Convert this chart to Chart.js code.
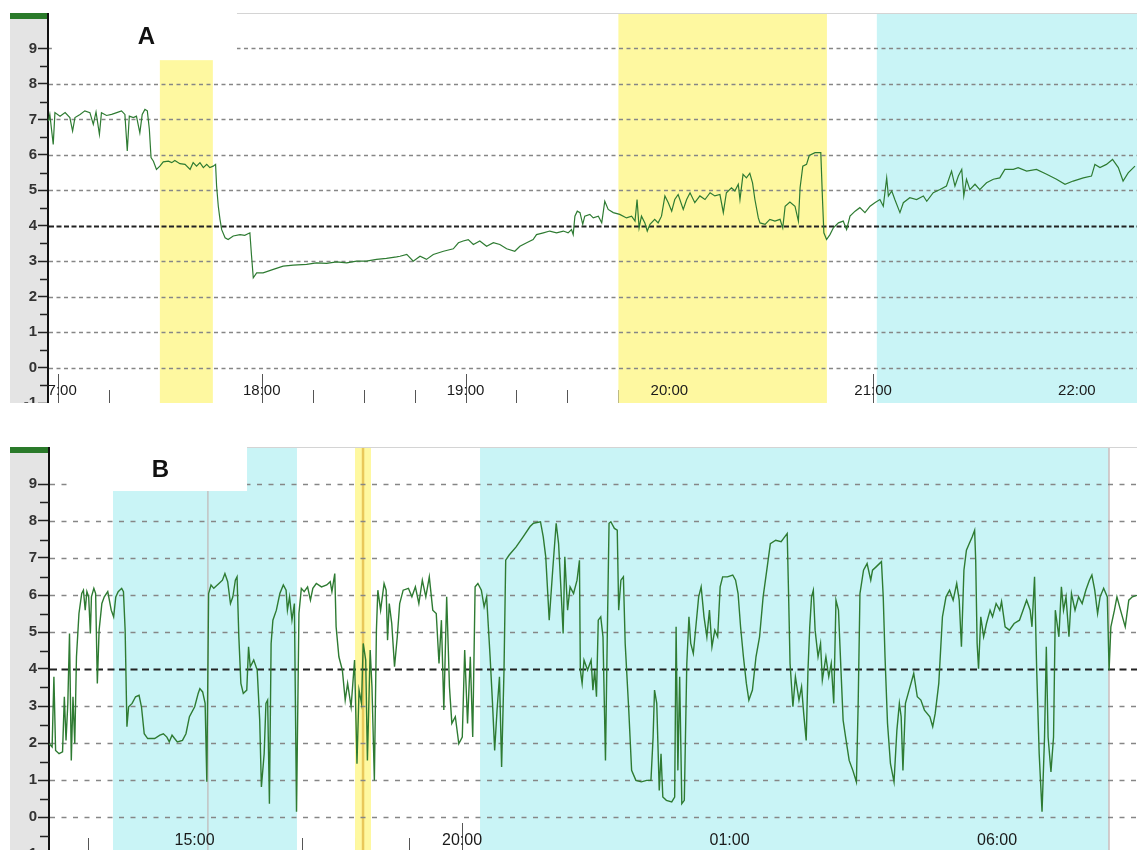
<!DOCTYPE html>
<html>
<head>
<meta charset="utf-8">
<script src="https://cdn.jsdelivr.net/npm/chart.js@4.4.0/dist/chart.umd.min.js"></script>
<style>
  html, body { margin: 0; padding: 0; background: #fff; overflow: hidden; width: 1137px; height: 850px; }
  canvas { position: absolute; left: 10px; }
  #chartA { top: 13px; }
  #chartB { top: 447px; }
</style>
</head>
<body>
<canvas id="chartA" width="1127" height="390"></canvas>
<canvas id="chartB" width="1127" height="407"></canvas>
<script>
// times are minutes after midnight of the first day (values past 1440 = next day)

// --- panel A ---
const timesA = [
  1017.2, 1017.6, 1018.6, 1019.1, 1020.6, 1022.1, 1023.5, 1024.3, 1025.0, 1026.5,
  1027.9, 1029.4, 1030.4, 1031.2, 1032.2, 1032.8, 1034.3, 1035.8, 1037.3, 1038.7,
  1039.7, 1040.4, 1041.0, 1042.2, 1043.1, 1044.1, 1044.8, 1045.6, 1046.3, 1046.9,
  1047.4, 1048.1, 1049.0, 1050.0, 1051.0, 1052.5, 1053.5, 1054.4, 1055.9, 1057.4,
  1058.9, 1059.8, 1060.8, 1061.8, 1062.8, 1063.8, 1064.7, 1065.7, 1066.4, 1066.7,
  1067.2, 1067.7, 1068.2, 1069.2, 1070.1, 1071.6, 1073.6, 1075.0, 1076.5, 1077.0,
  1077.5, 1078.5, 1080.4, 1083.4, 1086.3, 1089.3, 1093.2, 1096.1, 1099.1, 1102.0,
  1105.0, 1107.9, 1110.8, 1113.8, 1116.7, 1119.7,
  1120.7, 1122.7, 1124.6, 1126.6, 1128.5, 1130.5, 1133.5, 1136.4, 1137.9, 1139.3,
  1140.8, 1142.3, 1144.2, 1146.2, 1148.2, 1150.1, 1152.1, 1154.5, 1156.0, 1158.0,
  1159.9, 1160.9, 1162.9, 1164.8, 1166.8, 1168.8, 1170.2, 1171.2, 1171.7, 1172.2,
  1172.9, 1173.7, 1174.5, 1175.1, 1176.6, 1177.6, 1179.1, 1180.1, 1181.0, 1182.0,
  1183.5, 1185.4, 1187.4, 1188.9, 1189.9, 1190.5, 1191.1, 1191.8, 1192.8, 1193.5,
  1194.3, 1195.7, 1196.7, 1197.7, 1198.7, 1199.7, 1200.7, 1201.6, 1202.6, 1204.1,
  1205.1, 1206.1, 1207.5, 1209.0, 1210.5, 1212.0, 1213.4, 1214.9, 1215.9, 1216.8,
  1218.3, 1219.3, 1220.3, 1220.8, 1221.7, 1222.7, 1223.7, 1224.5, 1225.2, 1226.2,
  1226.7, 1228.2, 1229.6, 1231.1, 1232.6, 1233.4, 1234.1, 1235.5, 1237.0, 1238.0,
  1238.5, 1239.3, 1240.4, 1241.2, 1242.9, 1244.6, 1245.1, 1245.5, 1246.3, 1247.3,
  1248.3, 1249.8, 1251.2, 1252.2, 1253.2, 1254.7, 1256.1, 1257.6, 1259.1, 1260.5,
  1262.0, 1263.0, 1264.0, 1264.5, 1265.5, 1266.4, 1267.9, 1268.9, 1270.8, 1272.8,
  1274.8, 1275.8, 1277.7, 1279.7, 1281.6, 1283.1, 1284.1, 1285.1, 1286.1, 1286.7,
  1287.5, 1288.5, 1290.0, 1291.4, 1293.4, 1295.4, 1297.3, 1298.8, 1301.3, 1302.7,
  1305.2, 1308.1, 1311.1, 1314.0, 1316.5, 1318.9, 1321.9, 1324.3, 1325.3, 1326.8,
  1328.7, 1330.5, 1332.2, 1333.6, 1335.1, 1337.1
];
const valuesA = [
  6.95, 7.14, 6.29, 7.19, 7.09, 7.19, 7.05, 6.67, 7.05, 7.14,
  7.24, 7.19, 6.86, 7.21, 6.58, 7.19, 7.11, 7.14, 7.19, 7.24,
  7.14, 6.11, 7.09, 7.05, 7.09, 6.62, 7.14, 7.28, 7.24, 6.72,
  5.92, 5.82, 5.59, 5.68, 5.80, 5.82, 5.78, 5.84, 5.75, 5.73,
  5.59, 5.78, 5.68, 5.78, 5.64, 5.73, 5.64, 5.68, 5.73, 5.12,
  4.55, 4.18, 3.89, 3.66, 3.61, 3.71, 3.75, 3.73, 3.80, 3.14,
  2.53, 2.67, 2.67, 2.77, 2.86, 2.89, 2.91, 2.95, 2.94, 2.98,
  2.95, 3.00, 3.00, 3.05, 3.08, 3.12,
  3.14, 3.19, 3.00, 3.14, 3.05, 3.19, 3.28, 3.35, 3.52, 3.57,
  3.61, 3.47, 3.57, 3.42, 3.52, 3.47, 3.35, 3.28, 3.42, 3.52,
  3.61, 3.75, 3.80, 3.85, 3.80, 3.85, 3.80, 3.89, 3.75, 4.27,
  4.41, 4.37, 4.04, 4.27, 4.32, 4.22, 4.27, 4.08, 4.69, 4.46,
  4.37, 4.32, 4.22, 4.27, 4.13, 4.74, 3.94, 4.27, 4.08, 3.85,
  4.04, 4.18, 4.08, 4.27, 4.84, 4.65, 4.41, 4.74, 4.88, 4.46,
  4.74, 4.93, 4.65, 4.84, 4.74, 4.93, 4.84, 4.88, 4.37, 4.93,
  5.07, 4.98, 5.17, 4.74, 5.45, 5.35, 5.48, 5.21, 4.74, 4.22,
  4.08, 4.04, 4.18, 4.13, 4.18, 3.94, 4.55, 4.67, 4.55, 4.13,
  5.07, 5.68, 5.73, 5.98, 6.06, 6.06, 4.74, 3.80, 3.61, 3.75,
  3.94, 4.08, 4.13, 3.89, 4.27, 4.41, 4.51, 4.37, 4.55, 4.65,
  4.74, 4.55, 5.35, 4.84, 4.98, 4.74, 4.37, 4.65, 4.79, 4.74,
  4.84, 4.69, 4.93, 5.02, 5.12, 5.54, 5.12, 5.40, 5.59, 4.84,
  5.31, 5.02, 5.17, 5.02, 5.21, 5.31, 5.35, 5.59, 5.59, 5.64,
  5.54, 5.59, 5.45, 5.31, 5.17, 5.26, 5.35, 5.40, 5.73, 5.64,
  5.73, 5.87, 5.64, 5.26, 5.49, 5.68
];
const labelTimesA = [1020, 1080, 1140, 1200, 1260, 1320];
const labelsA = ['17:00', '18:00', '19:00', '20:00', '21:00', '22:00'];
const periodStartA = [1050, 1185, 1261.1];
const periodEndA = [1065.6, 1246.4, 1337.7];
const periodKindA = ['yellow', 'yellow', 'cyan'];
const markerTimesA = [];
const markerKindA = [];

// --- panel B ---
const timesB = [
  737, 740.3, 742.3, 744.2, 748.1, 752.0, 754.0, 755.9, 757.9, 759.8,
  761.8, 763.7, 765.7, 767.6, 770.4, 773.5, 775.4, 777.4, 779.3, 781.3,
  783.2, 784.4, 787.1, 789.1, 791.0, 793.0, 796.1, 798.8, 802.7, 806.6,
  809.3, 811.7, 814.4, 818.3, 820.3, 822.2, 824.2, 826.1, 830.0, 833.9,
  837.8, 840.5, 843.6, 847.5, 855.3, 861.2, 865.1, 869.0, 871.7, 874.8,
  880.7, 886.5, 890.4, 894.3, 900.2, 904.1, 906.0, 909.1, 911.9, 913.8,
  915.8, 918.5, 921.6, 927.4, 931.3, 934.1, 937.2, 940.3, 943.0, 945.8,
  947.7, 949.7, 952.0, 954.7, 958.6, 960.6, 962.5, 966.4, 970.3, 973.1,
  975.0, 978.1, 980.1, 982.0, 984.0, 985.9, 987.9, 991.8, 995.7, 999.6,
  1002.7, 1004.2, 1006.6, 1009.3, 1012.0, 1014.4, 1017.1, 1019.8, 1023.0, 1026.8,
  1030.0, 1032.7, 1036.6, 1042.4, 1048.3, 1052.2, 1054.1, 1057.3, 1058.8, 1061.9,
  1065.8, 1069.0, 1071.7, 1075.6, 1079.5, 1082.2, 1084.5, 1087.3, 1089.2, 1092.0,
  1093.9, 1097.0, 1099.0, 1101.7, 1104.0, 1105.6, 1108.7, 1112.6, 1114.9, 1116.5,
  1118.4, 1121.2, 1124.3, 1127.4, 1130.1, 1134.0, 1139.9, 1143.8, 1147.7, 1151.6,
  1155.5, 1159.4, 1163.3, 1167.2, 1171.1, 1174.2, 1176.9, 1179.6, 1182.8, 1185.9,
  1188.6, 1192.5, 1196.4, 1200.3, 1203.0, 1206.2, 1209.3, 1212.0, 1214.7, 1217.8,
  1221.7, 1224.8, 1227.6, 1231.5, 1234.2, 1236.6, 1239.3, 1242.0, 1244.4, 1247.1,
  1249.0, 1252.9, 1260.7, 1268.5, 1276.3, 1280.2, 1288.0, 1291.1, 1293.9, 1297.8,
  1301.7, 1305.6, 1308.3, 1311.4, 1313.4, 1315.3, 1318.4, 1321.2, 1325.1, 1329.0, 1331.7,
  1332.7, 1334.7, 1336.8, 1340.8, 1344.8, 1346.8, 1348.8, 1350.8, 1352.8, 1355.6,
  1358.1, 1360.9, 1362.9, 1364.9, 1366.9, 1370.9, 1374.1, 1375.7, 1378.2, 1381.0,
  1383.0, 1387.0, 1390.2, 1395.0, 1401.1, 1407.1, 1411.9, 1414.3, 1415.9, 1418.4,
  1421.2, 1423.2, 1425.2, 1429.2, 1435.2, 1438.5, 1440.1, 1442.1, 1444.1, 1446.5,
  1449.3, 1452.1, 1454.5, 1456.5, 1459.4, 1462.6, 1465.4, 1468.2, 1471.4, 1474.6,
  1477.5, 1480.3, 1483.5, 1486.7, 1489.5, 1492.3, 1497.6, 1503.6, 1506.8, 1509.6,
  1512.4, 1515.6, 1518.9, 1521.7, 1525.7, 1529.7, 1533.7, 1537.7, 1541.8, 1545.8,
  1551.8, 1557.9, 1561.9, 1564.7, 1566.3, 1567.9, 1571.1, 1573.9, 1577.9, 1580.8,
  1583.2, 1586.0, 1588.0, 1590.0, 1592.0, 1594.0, 1596.0, 1599.3, 1602.1, 1604.1,
  1608.1, 1611.3, 1614.1, 1616.9, 1619.4, 1622.2, 1625.0, 1627.4, 1630.2, 1634.2,
  1638.3, 1642.3, 1644.3, 1646.3, 1650.3, 1654.3, 1658.4, 1660.4, 1664.4, 1670.4,
  1672.4, 1674.4, 1677.2, 1680.5, 1684.5, 1687.7, 1690.5, 1692.5, 1694.5, 1697.3,
  1701.4, 1706.6, 1710.6, 1714.6, 1718.6, 1724.7, 1727.9, 1730.7, 1734.7, 1738.8,
  1742.8, 1746.8, 1750.8, 1754.8, 1757.6, 1760.1, 1762.9, 1765.7, 1768.9, 1772.1,
  1774.9, 1776.1, 1777.7, 1779.3, 1781.8, 1785.0, 1788.2, 1792.2, 1795.0, 1799.0,
  1803.1, 1805.1, 1809.1, 1813.9, 1819.2, 1825.2, 1829.2, 1833.2, 1837.2, 1839.2,
  1842.1, 1844.5, 1847.3, 1850.5, 1853.3, 1855.3, 1857.3, 1860.5, 1863.4, 1865.4,
  1869.4, 1872.2, 1874.6, 1877.4, 1880.7, 1883.5, 1887.5, 1891.5, 1895.5, 1899.6,
  1903.6, 1906.4, 1909.6, 1912.8, 1915.6, 1919.6, 1923.7, 1925.7, 1927.7, 1931.7,
  1934.5, 1938.5, 1943.8, 1947.8, 1951.8, 1957.0
];
const valuesB = [
  1.98, 1.89, 3.79, 1.80, 1.71, 1.76, 3.25, 2.07, 3.07, 4.96,
  1.53, 3.25, 1.98, 4.33, 5.50, 6.04, 6.13, 5.59, 6.09, 5.95,
  4.96, 5.95, 6.18, 6.04, 3.61, 5.05, 5.77, 5.95, 6.09, 5.59,
  5.41, 5.95, 6.09, 6.18, 6.09, 5.05, 2.44, 2.98, 3.07, 3.25,
  3.29, 2.98, 2.25, 2.12, 2.12, 2.21, 2.25, 2.16, 2.03, 2.21,
  2.03, 2.07, 2.25, 2.71, 2.98, 3.34, 3.47, 3.38, 3.07, 0.95,
  6.04, 6.27, 6.18, 6.31, 6.40, 6.58, 6.36, 5.77, 5.95, 6.40,
  6.49, 4.87, 3.61, 3.34, 3.43, 4.60, 4.06, 4.24, 3.97, 2.62,
  0.81, 1.71, 3.07, 3.16, 0.36, 4.69, 5.32, 5.59, 6.04, 6.27,
  6.13, 5.59, 5.95, 5.32, 5.77, 0.14, 5.50, 6.18, 6.09, 6.22,
  5.86, 6.18, 6.31, 6.22, 6.27, 6.36, 6.09, 6.58, 5.14, 4.33,
  3.97, 3.16, 3.61, 2.98, 4.24, 1.44, 3.43, 3.07, 4.69, 4.24,
  1.53, 4.51, 3.52, 0.99, 5.05, 6.13, 5.59, 6.31, 6.13, 4.78,
  5.77, 5.23, 4.06, 4.87, 5.77, 6.13, 6.18, 5.95, 6.22, 5.77,
  6.40, 5.95, 6.49, 5.59, 5.50, 4.15, 5.32, 2.89, 5.95, 3.52,
  2.53, 2.71, 1.98, 2.16, 4.51, 2.53, 4.33, 2.16, 6.22, 6.31,
  6.13, 5.68, 5.95, 4.33, 3.07, 1.80, 2.89, 3.79, 1.35, 3.97,
  6.94, 7.08, 7.30, 7.57, 7.85, 7.94, 7.98, 7.57, 7.03, 5.32,
  6.67, 7.94, 7.39, 5.95, 4.96, 7.03, 5.59, 6.22, 6.04, 6.40, 6.94,
  3.97, 3.61, 4.24, 3.97, 4.24, 3.43, 3.97, 3.25, 5.32, 5.41,
  4.87, 1.53, 4.87, 7.94, 7.98, 7.80, 7.75, 5.59, 6.40, 6.49,
  4.69, 2.89, 1.26, 0.99, 0.95, 0.99, 0.99, 2.16, 3.43, 3.07,
  0.72, 1.71, 0.54, 0.45, 0.41, 0.54, 5.14, 1.26, 3.79, 0.36,
  0.45, 4.15, 5.41, 4.69, 4.42, 5.23, 5.95, 6.22, 5.41, 4.87,
  5.59, 4.60, 5.05, 4.87, 6.22, 6.49, 6.49, 6.54, 6.40, 6.04,
  5.14, 4.33, 3.61, 3.16, 3.43, 4.33, 4.87, 5.95, 6.67, 7.39,
  7.48, 7.44, 7.57, 7.66, 5.95, 4.15, 2.98, 3.79, 3.16, 3.52,
  2.80, 2.07, 3.97, 5.14, 5.95, 6.13, 5.05, 4.33, 4.69, 3.70,
  4.33, 3.79, 4.15, 3.07, 5.86, 5.59, 3.97, 2.62, 2.16, 1.53,
  1.26, 0.95, 3.07, 6.04, 6.67, 6.85, 6.40, 6.67, 6.76, 6.90,
  5.95, 4.33, 2.53, 1.44, 0.95, 2.34, 3.07, 2.71, 1.26, 3.07,
  3.43, 3.88, 3.25, 3.16, 2.89, 2.71, 2.44, 2.80, 3.61, 5.41,
  5.95, 6.13, 5.86, 6.31, 5.86, 4.60, 6.67, 7.21, 7.39, 7.57,
  7.75, 6.94, 4.69, 4.01, 5.41, 4.87, 5.23, 5.59, 5.41, 5.77,
  5.59, 5.82, 5.14, 5.05, 5.23, 5.32, 5.59, 5.86, 5.59, 5.14,
  6.49, 3.97, 1.71, 0.14, 2.16, 4.60, 2.16, 1.22, 2.16, 5.59,
  4.87, 6.22, 5.59, 5.95, 4.87, 6.04, 5.59, 5.95, 5.77, 6.13,
  6.40, 6.54, 6.13, 5.50, 5.95, 6.18, 5.95, 3.97, 5.14, 5.59,
  5.95, 5.59, 5.14, 5.86, 5.95, 5.99
];
const labelTimesB = [900, 1200, 1500, 1800];
const labelsB = ['15:00', '20:00', '01:00', '06:00'];
const periodStartB = [808.6, 1080, 1220.2];
const periodEndB = [1014.9, 1097.9, 1925.6];
const periodKindB = ['cyan', 'yellow', 'cyan'];
const markerTimesB = [915, 1089, 1925.6];
const markerKindB = ['gray', 'gold', 'rose'];

const refLevel = 4;

if (timesA.length !== valuesA.length || timesB.length !== valuesB.length) {
  console.error('length mismatch', timesA.length, valuesA.length, timesB.length, valuesB.length);
}

const COLORS = {
  yellow: '#fef8a0', cyan: '#c9f4f6',
  gray: '#c2c2c2', gold: '#e9c85a', rose: '#cbbcbc',
  line: '#2e7b32', grid: '#868686', ref: '#222',
  strip: '#e4e4e4', bar: '#2a7a2a'
};
const FONT = "'Liberation Sans', Arial, sans-serif";

function makePanel(canvasId, p) {
  const decor = {
    id: 'decor',
    beforeDraw(chart) {
      const { ctx, chartArea: a } = chart;
      ctx.save();
      ctx.fillStyle = COLORS.strip;
      ctx.fillRect(0, 0, a.left, chart.height);
      ctx.fillStyle = COLORS.bar;
      ctx.fillRect(0, 0, a.left, 6);
      ctx.restore();
    },
    beforeDatasetsDraw(chart) {
      const { ctx, chartArea: a, scales: { x, y } } = chart;
      ctx.save();
      ctx.beginPath();
      ctx.rect(a.left, a.top, a.right - a.left, a.bottom - a.top);
      ctx.clip();

      // time ticks at the bottom (the shaded periods cover some of them)
      ctx.strokeStyle = '#555';
      ctx.lineWidth = 1;
      for (let t = p.tickFrom; t <= p.tickTo; t += p.tickStep) {
        const px = Math.round(x.getPixelForValue(t)) + 0.5;
        const len = p.labelTimes.includes(t) ? p.majorLen : p.minorLen;
        ctx.beginPath();
        ctx.moveTo(px, a.bottom - len);
        ctx.lineTo(px, a.bottom);
        ctx.stroke();
      }

      // shaded periods
      p.periodStart.forEach((s, i) => {
        const x0 = x.getPixelForValue(s);
        const x1 = x.getPixelForValue(p.periodEnd[i]);
        ctx.fillStyle = COLORS[p.periodKind[i]];
        ctx.fillRect(x0, a.top, x1 - x0, a.bottom - a.top);
      });

      // event markers
      p.markerTimes.forEach((t, i) => {
        const px = x.getPixelForValue(t);
        ctx.strokeStyle = COLORS[p.markerKind[i]];
        ctx.lineWidth = p.markerKind[i] === 'gold' ? 2.5 : 1.5;
        ctx.beginPath();
        ctx.moveTo(px, a.top);
        ctx.lineTo(px, a.bottom);
        ctx.stroke();
      });

      // dashed horizontal grid, target level in black
      for (let v = 0; v <= 9; v++) {
        const py = Math.round(y.getPixelForValue(v)) + 0.5;
        const isRef = v === refLevel;
        ctx.setLineDash(isRef ? p.refDash : p.gridDash);
        ctx.strokeStyle = isRef ? COLORS.ref : COLORS.grid;
        ctx.lineWidth = isRef ? 2 : 1.7;
        ctx.beginPath();
        ctx.moveTo(a.left + 1, py);
        ctx.lineTo(a.right, py);
        ctx.stroke();
      }
      ctx.setLineDash([]);

      // white title box with panel letter
      const bx0 = x.getPixelForValue(p.box[0]);
      const bx1 = x.getPixelForValue(p.box[1]);
      const by = y.getPixelForValue(p.box[2]);
      ctx.fillStyle = '#fff';
      ctx.fillRect(bx0, a.top, bx1 - bx0, by - a.top);
      ctx.strokeStyle = '#d4d4d4';
      ctx.lineWidth = 1;
      ctx.beginPath();
      ctx.moveTo(bx1, a.top + 0.5);
      ctx.lineTo(a.right, a.top + 0.5);
      ctx.stroke();

      ctx.fillStyle = '#111';
      ctx.font = 'bold 24px ' + FONT;
      ctx.textAlign = 'center';
      ctx.textBaseline = 'middle';
      ctx.fillText(p.letter, (bx0 + bx1) / 2 + 2, (a.top + by) / 2 + 1);

      // hour labels sit inside the plot
      ctx.font = p.labelSize + 'px ' + FONT;
      ctx.fillStyle = '#1a1a1a';
      p.labelTimes.forEach((t, i) => {
        ctx.fillText(p.labels[i], x.getPixelForValue(t), a.bottom - p.labelRise);
      });
      ctx.restore();
    },
    afterDraw(chart) {
      // half-unit minor ticks on the value axis
      const { ctx, chartArea: a, scales: { y } } = chart;
      ctx.save();
      ctx.strokeStyle = '#222';
      ctx.lineWidth = 1.5;
      for (let v = -0.5; v < 9; v += 1) {
        const py = Math.round(y.getPixelForValue(v)) + 0.5;
        ctx.beginPath();
        ctx.moveTo(a.left - p.yMinorLen, py);
        ctx.lineTo(a.left, py);
        ctx.stroke();
      }
      ctx.restore();
    }
  };

  return new Chart(document.getElementById(canvasId), {
    type: 'line',
    data: {
      datasets: [{
        data: p.times.map((t, i) => ({ x: t, y: p.values[i] })),
        borderColor: COLORS.line,
        borderWidth: p.lineWidth,
        pointRadius: 0,
        tension: 0,
        fill: false
      }]
    },
    options: {
      responsive: false,
      animation: false,
      devicePixelRatio: 1,
      layout: { padding: 0 },
      plugins: { legend: { display: false }, tooltip: { enabled: false } },
      scales: {
        x: { type: 'linear', display: false, min: p.xMin, max: p.xMax },
        y: {
          min: -1,
          max: 10,
          afterFit: s => { s.width = p.axisWidth; s.paddingTop = 0; s.paddingBottom = 0; },
          ticks: {
            stepSize: 1,
            padding: 1,
            color: '#333',
            font: { family: FONT, size: 15, weight: 'bold' },
            callback: v => (v === 10 ? '' : v)
          },
          grid: {
            drawOnChartArea: false,
            drawTicks: true,
            tickLength: p.yTickLen,
            tickWidth: 1.5,
            tickColor: c => (c.tick && c.tick.value === 10 ? 'rgba(0,0,0,0)' : '#222')
          },
          border: { display: true, color: '#111', width: 2 }
        }
      }
    },
    plugins: [decor]
  });
}

makePanel('chartA', {
  times: timesA, values: valuesA, letter: 'A',
  xMin: 1017.06, xMax: 1337.7, axisWidth: 38, yTickLen: 10, yMinorLen: 8,
  tickFrom: 1020, tickTo: 1335, tickStep: 15, majorLen: 29, minorLen: 13,
  labelTimes: labelTimesA, labels: labelsA, labelSize: 15, labelRise: 12,
  periodStart: periodStartA, periodEnd: periodEndA, periodKind: periodKindA,
  markerTimes: markerTimesA, markerKind: markerKindA,
  box: [1018.2, 1072.7, 8.67],
  gridDash: [4, 3.5], refDash: [5, 2.5], lineWidth: 1.2
});

makePanel('chartB', {
  times: timesB, values: valuesB, letter: 'B',
  xMin: 736.8, xMax: 1957, axisWidth: 39, yTickLen: 11, yMinorLen: 9,
  tickFrom: 780, tickTo: 1920, tickStep: 60, majorLen: 31, minorLen: 16,
  labelTimes: labelTimesB, labels: labelsB, labelSize: 16, labelRise: 13,
  periodStart: periodStartB, periodEnd: periodEndB, periodKind: periodKindB,
  markerTimes: markerTimesB, markerKind: markerKindB,
  box: [760.4, 958.9, 8.81],
  gridDash: [5, 6.5], refDash: [7, 4.5], lineWidth: 1.4
});
</script>
</body>
</html>
